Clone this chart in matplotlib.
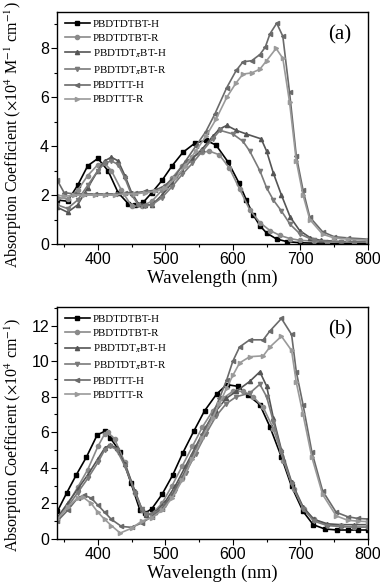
import matplotlib
matplotlib.use("Agg")
import matplotlib.pyplot as plt
from matplotlib.ticker import MultipleLocator

# ---------------- Panel (a) data ----------------
a_dtbt_h_x = [340,355,370,385,400,415,430,445,455,467,480,495,510,526,544,560,575,593,609,620,630,640,650,665,680,700,730,760,800]
a_dtbt_h_y = [1.8,1.75,2.4,3.2,3.5,3.0,2.1,1.65,1.6,1.7,2.1,2.6,3.2,3.75,4.13,4.24,4.05,3.35,2.5,1.8,1.2,0.75,0.45,0.2,0.1,0.05,0.03,0.02,0.02]

a_dtbt_r_x = [340,355,370,385,400,410,420,435,450,465,480,495,510,525,540,555,565,580,595,610,625,640,655,670,685,700,720,740,760,780,800]
a_dtbt_r_y = [1.9,1.85,2.2,2.8,3.25,3.3,3.0,2.2,1.55,1.55,1.75,2.2,2.7,3.2,3.55,3.75,3.8,3.65,3.1,2.25,1.4,0.88,0.55,0.35,0.22,0.15,0.12,0.1,0.09,0.08,0.08]

a_dtdt_h_x = [340,355,370,385,400,410,420,430,440,450,460,470,480,495,510,525,540,555,570,580,591,605,620,642,650,660,672,685,699,715,730,760,800]
a_dtdt_h_y = [1.5,1.3,1.6,2.3,3.0,3.4,3.55,3.4,2.8,2.1,1.65,1.6,1.6,2.0,2.5,3.0,3.5,3.9,4.4,4.7,4.85,4.65,4.5,4.3,3.8,2.9,2.0,1.1,0.55,0.25,0.15,0.1,0.1]

a_dtdt_r_x = [340,355,370,385,400,410,420,430,440,450,460,470,480,495,510,525,540,555,570,581,600,615,625,640,650,660,672,685,700,720,760,800]
a_dtdt_r_y = [1.6,1.45,1.8,2.4,3.0,3.3,3.4,3.25,2.7,2.0,1.6,1.55,1.6,1.9,2.35,2.85,3.3,3.8,4.3,4.65,4.5,4.2,3.8,3.0,2.3,1.8,1.35,0.8,0.4,0.15,0.08,0.08]

a_tt_h_x = [340,350,365,380,395,410,425,440,455,470,485,500,515,530,545,560,573,591,605,615,628,640,648,655,665,674,684,694,704,714,733,750,770,800]
a_tt_h_y = [2.6,2.1,2.05,2.05,2.05,2.05,2.05,2.1,2.1,2.15,2.2,2.4,2.8,3.4,4.0,4.6,5.3,6.4,7.1,7.45,7.5,7.75,8.05,8.6,9.03,8.5,6.2,3.6,2.2,1.1,0.5,0.3,0.25,0.2]

a_tt_r_x = [340,350,365,380,395,410,425,440,455,470,485,500,515,530,545,560,575,591,605,615,628,640,650,664,674,684,694,704,714,733,750,770,800]
a_tt_r_y = [2.0,1.95,2.0,2.0,2.0,2.0,2.0,2.05,2.05,2.1,2.15,2.3,2.7,3.2,3.8,4.4,5.1,6.0,6.6,6.95,7.0,7.15,7.5,8.0,7.6,5.8,3.4,2.0,1.0,0.4,0.25,0.2,0.15]

# ---------------- Panel (b) data ----------------
b_dtbt_h_x = [340,354,368,383,399,410,418,433,449,462,470,480,495,511,526,542,558,576,591,608,622,640,655,672,687,704,719,736,755,770,785,800]
b_dtbt_h_y = [1.55,2.6,3.6,4.6,5.85,6.05,5.7,4.9,3.15,1.65,1.45,1.7,2.5,3.6,4.85,6.05,7.2,8.15,8.68,8.58,8.1,7.55,6.3,4.6,2.95,1.55,0.8,0.56,0.5,0.5,0.5,0.5]

b_dtbt_r_x = [340,355,370,385,400,410,415,425,440,455,465,472,480,495,510,525,540,555,570,585,600,615,630,645,660,675,690,705,720,740,760,780,800]
b_dtbt_r_y = [1.1,1.9,2.9,3.9,5.2,5.9,6.0,5.6,4.3,2.6,1.6,1.35,1.4,2.0,3.0,4.1,5.2,6.3,7.2,7.9,8.3,8.3,8.0,7.4,6.2,4.4,2.8,1.7,1.1,0.8,0.7,0.66,0.66]

b_dtdt_h_x = [340,355,370,385,400,410,418,428,440,455,465,472,485,500,515,530,545,560,575,590,605,625,640,650,660,672,687,704,720,740,760,780,800]
b_dtdt_h_y = [1.2,2.0,2.8,3.6,4.5,5.1,5.3,5.1,4.2,2.7,1.7,1.35,1.5,2.1,3.0,4.1,5.2,6.3,7.2,7.9,8.3,8.86,9.4,8.6,6.8,5.0,3.2,1.8,1.1,0.85,0.8,0.8,0.8]

b_dtdt_r_x = [340,355,370,385,400,410,418,428,440,455,465,472,485,500,515,530,545,560,575,590,605,625,640,650,660,672,687,704,720,740,760,780,800]
b_dtdt_r_y = [1.1,1.8,2.6,3.4,4.3,5.0,5.25,5.0,4.1,2.6,1.7,1.4,1.45,1.9,2.7,3.7,4.8,5.9,6.9,7.6,8.0,8.2,8.7,8.0,6.6,4.9,3.1,1.7,1.0,0.75,0.7,0.66,0.66]

b_tt_h_x = [340,355,370,380,390,400,410,420,435,450,465,480,495,510,525,540,555,570,580,591,600,610,625,645,655,672,687,694,704,717,733,753,770,785,800]
b_tt_h_y = [1.0,1.6,2.3,2.45,2.3,1.9,1.5,1.1,0.7,0.65,0.9,1.25,1.7,2.5,3.5,4.7,5.9,7.0,7.9,8.96,10.0,10.8,11.2,11.2,11.7,12.4,11.5,9.4,7.55,4.9,2.7,1.5,1.25,1.15,1.12]

b_tt_r_x = [340,355,370,378,390,400,410,420,433,450,465,480,495,510,525,540,555,570,580,591,600,610,625,645,655,672,687,694,704,717,733,753,770,785,800]
b_tt_r_y = [1.1,1.8,2.3,2.35,2.0,1.5,1.1,0.75,0.33,0.6,1.0,1.2,1.6,2.3,3.3,4.5,5.7,6.8,7.6,8.5,9.2,9.9,10.25,10.3,10.8,11.4,10.6,8.8,7.0,4.6,2.5,1.3,1.05,1.0,0.97]

labels = ["PBDTDTBT-H", "PBDTDTBT-R", r"PBDTDT$_{\pi}$BT-H", r"PBDTDT$_{\pi}$BT-R", "PBDTTT-H", "PBDTTT-R"]
colors = ["#000000", "#8a8a8a", "#555555", "#7a7a7a", "#6a6a6a", "#9a9a9a"]
markers = ["s", "o", "^", "v", "<", ">"]

xticks = [400, 500, 600, 700, 800]

plt.rcParams['mathtext.fontset'] = 'stix'

fig = plt.figure(figsize=(3.8, 5.88), dpi=100)
axA = fig.add_axes([0.151, 0.585, 0.817, 0.395])
axB = fig.add_axes([0.151, 0.0835, 0.817, 0.3945])

seriesA = [(a_dtbt_h_x, a_dtbt_h_y), (a_dtbt_r_x, a_dtbt_r_y), (a_dtdt_h_x, a_dtdt_h_y),
           (a_dtdt_r_x, a_dtdt_r_y), (a_tt_h_x, a_tt_h_y), (a_tt_r_x, a_tt_r_y)]
seriesB = [(b_dtbt_h_x, b_dtbt_h_y), (b_dtbt_r_x, b_dtbt_r_y), (b_dtdt_h_x, b_dtdt_h_y),
           (b_dtdt_r_x, b_dtdt_r_y), (b_tt_h_x, b_tt_h_y), (b_tt_r_x, b_tt_r_y)]

def style(ax, ylim, ymaj, label, tag, ly):
    ax.set_xlim(340, 800)
    ax.set_ylim(*ylim)
    ax.set_xticks(xticks)
    ax.xaxis.set_minor_locator(MultipleLocator(50))
    ax.yaxis.set_major_locator(MultipleLocator(ymaj))
    ax.yaxis.set_minor_locator(MultipleLocator(ymaj / 2))
    ax.tick_params(which='major', direction='out', length=4, width=0.8, labelsize=11.5, pad=2)
    ax.tick_params(which='minor', direction='out', length=2, width=0.8)
    for lab in ax.get_xticklabels() + ax.get_yticklabels():
        lab.set_fontfamily('Liberation Sans')
    for s in ax.spines.values():
        s.set_linewidth(1.0)
    ax.set_xlabel("Wavelength (nm)", fontfamily='Liberation Serif', fontsize=13.5, labelpad=2)
    ax.set_ylabel(label, fontfamily='Liberation Serif', fontsize=11.5)
    ax.yaxis.set_label_coords(-0.108, ly)
    ax.text(0.91, 0.9, tag, transform=ax.transAxes, ha='center', va='center',
            fontfamily='Liberation Serif', fontsize=15)
    ax.legend(loc='upper left', frameon=False, prop={'family': 'Liberation Serif', 'size': 7.8},
              handlelength=2.3, labelspacing=0.4, borderaxespad=0.3, handletextpad=0.3,
              bbox_to_anchor=(0.0, 1.0))

for ax, series in ((axA, seriesA), (axB, seriesB)):
    for (x, y), lab, c, m in zip(series, labels, colors, markers):
        ax.plot(x, y, color=c, marker=m, markersize=3.0, linewidth=1.2, label=lab)

style(axA, (0, 9.5), 2, r"Absorption Coefficient ($\times$10$^4$ M$^{-1}$ cm$^{-1}$)", "(a)", 0.47)
style(axB, (0, 13.05), 2, r"Absorption Coefficient ($\times$10$^4$ cm$^{-1}$)", "(b)", 0.45)

fig.savefig("out.png", dpi=100)
